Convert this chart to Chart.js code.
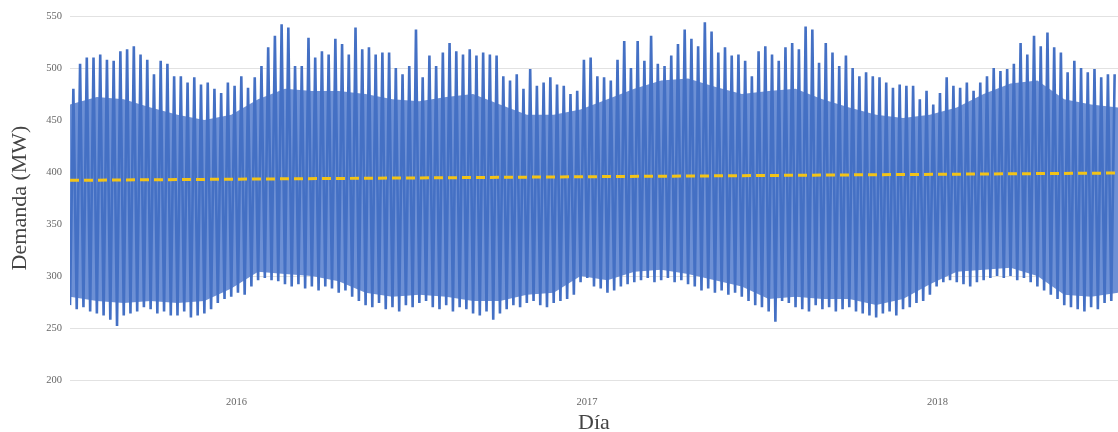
<!DOCTYPE html>
<html>
<head>
<meta charset="utf-8">
<script src="https://cdn.jsdelivr.net/npm/chart.js@4.4.1/dist/chart.umd.min.js"></script>
<style>
  html, body { margin: 0; padding: 0; background: #fff; }
</style>
</head>
<body>
<canvas id="demand" width="1118" height="432"></canvas>
<script>
// weekly maximum demand (MW), one value per week starting mid-July 2015
const weekPeak = [
  480, 504, 510, 510, 513, 508, 507, 516, 518, 521, 513, 508, 494, 507, 504, 492, 492, 486, 491, 484,
  486, 480, 476, 486, 483, 492, 481, 491, 502, 520, 531, 542, 539, 502, 502, 529, 510, 516, 513, 528,
  523, 513, 539, 518, 520, 513, 515, 515, 500, 494, 502, 537, 491, 512, 502, 515, 524, 516, 513, 518,
  512, 515, 513, 512, 492, 488, 494, 480, 499, 483, 486, 491, 484, 483, 475, 478, 508, 510, 492, 491,
  488, 508, 526, 500, 526, 507, 531, 504, 502, 512, 523, 537, 528, 521, 544, 535, 515, 520, 512, 513,
  507, 492, 516, 521, 513, 507, 520, 524, 518, 540, 537, 505, 524, 515, 502, 512, 500, 492, 496, 492,
  491, 486, 481, 484, 483, 483, 470, 478, 465, 476, 491, 483, 481, 486, 478, 486, 492, 500, 497, 499,
  504, 524, 513, 531, 521, 534, 520, 515, 496, 507, 500, 496, 499, 491, 494, 494
];
// weekly minimum demand (MW)
const weekLow = [
  272, 268, 270, 266, 264, 262, 258, 252, 262, 264, 266, 270, 268, 264, 266, 262, 262, 266, 260, 262,
  264, 268, 274, 278, 280, 284, 282, 290, 296, 298, 296, 295, 292, 290, 292, 288, 290, 286, 290, 288,
  284, 286, 280, 276, 272, 270, 274, 268, 270, 266, 272, 270, 274, 276, 270, 268, 272, 266, 270, 268,
  264, 262, 266, 258, 264, 268, 272, 270, 274, 276, 272, 270, 274, 276, 278, 282, 294, 298, 290, 288,
  284, 286, 290, 292, 294, 296, 298, 294, 296, 298, 294, 296, 292, 290, 286, 288, 284, 286, 282, 284,
  280, 276, 272, 270, 266, 256, 276, 274, 270, 268, 266, 272, 268, 270, 266, 268, 270, 266, 264, 262,
  260, 264, 266, 262, 268, 270, 274, 276, 282, 290, 294, 296, 294, 292, 290, 294, 296, 298, 300, 298,
  300, 296, 298, 294, 290, 286, 282, 278, 272, 270, 268, 266, 270, 268, 274, 276
];
// dense body of the daily cycle, every 4 weeks
const coreTop = [
  465, 472, 470, 462, 455, 450, 455, 470, 480, 478, 478, 475, 470, 468, 472, 475, 465, 455, 455, 460,
  470, 480, 488, 490, 482, 475, 478, 480, 470, 462, 455, 452, 455, 462, 475, 485, 488, 470, 465, 462
];
const coreBottom = [
  280, 276, 274, 276, 274, 276, 288, 304, 302, 300, 295, 284, 280, 282, 280, 276, 276, 282, 284, 300,
  296, 304, 306, 302, 296, 290, 278, 280, 278, 278, 272, 278, 292, 304, 306, 308, 300, 282, 280, 284
];
// linear trend, first and last day
const trendEnds = [392, 399];
const yearTicks = [2016, 2017, 2018];

const firstDay = 2015.525;
const weekYears = 7 / 365.25;
const lastDay = firstDay + weekPeak.length * weekYears;

const blue = '#4470c4';
const bodyBlue = '#6d90d5';

const cycle = [];
weekLow.forEach((low, i) => {
  const t = firstDay + i * weekYears;
  cycle.push({x: t, y: low});
  cycle.push({x: t + weekYears / 2, y: weekPeak[i]});
});
const bodyTop = coreTop.map((v, k) => ({x: firstDay + k * 4 * weekYears, y: v}));
const bodyBottom = coreBottom.map((v, k) => ({x: firstDay + k * 4 * weekYears, y: v}));
const trend = [{x: firstDay, y: trendEnds[0]}, {x: lastDay, y: trendEnds[1]}];

const serif = "'Liberation Serif', 'Times New Roman', serif";

new Chart(document.getElementById('demand'), {
  type: 'line',
  data: {
    datasets: [
      {
        data: trend,
        borderColor: '#f2c318',
        borderWidth: 3,
        borderDash: [9, 5],
        pointRadius: 0
      },
      {
        data: cycle,
        borderColor: blue,
        borderWidth: 2.6,
        borderJoinStyle: 'bevel',
        pointRadius: 0
      },
      {
        data: bodyTop,
        fill: '+1',
        backgroundColor: bodyBlue,
        borderWidth: 0,
        pointRadius: 0
      },
      {
        data: bodyBottom,
        borderWidth: 0,
        pointRadius: 0
      }
    ]
  },
  options: {
    responsive: false,
    animation: false,
    layout: { padding: { top: 16, right: 0, left: 0, bottom: 0 } },
    plugins: {
      legend: { display: false },
      tooltip: { enabled: false }
    },
    scales: {
      x: {
        type: 'linear',
        min: firstDay,
        max: lastDay,
        grid: { display: false },
        border: { display: false },
        afterBuildTicks: scale => { scale.ticks = yearTicks.map(v => ({value: v})); },
        afterFit: scale => { scale.height = 52; },
        ticks: {
          padding: 8,
          color: '#666',
          font: { family: serif, size: 10.5 },
          maxRotation: 0,
          callback: v => String(v)
        },
        title: {
          display: true,
          text: 'Día',
          color: '#444',
          font: { family: serif, size: 22, lineHeight: 1 },
          padding: { top: 0, bottom: -2 }
        }
      },
      y: {
        min: 200,
        max: 550,
        grid: { color: '#e2e2e2', drawTicks: false },
        border: { display: false },
        afterFit: scale => { scale.width = 70; },
        ticks: {
          stepSize: 50,
          padding: 8,
          color: '#666',
          font: { family: serif, size: 10.5 }
        },
        title: {
          display: true,
          text: 'Demanda (MW)',
          color: '#444',
          font: { family: serif, size: 22, lineHeight: 1 },
          padding: { top: 9, bottom: 0 }
        }
      }
    }
  }
});
</script>
</body>
</html>
